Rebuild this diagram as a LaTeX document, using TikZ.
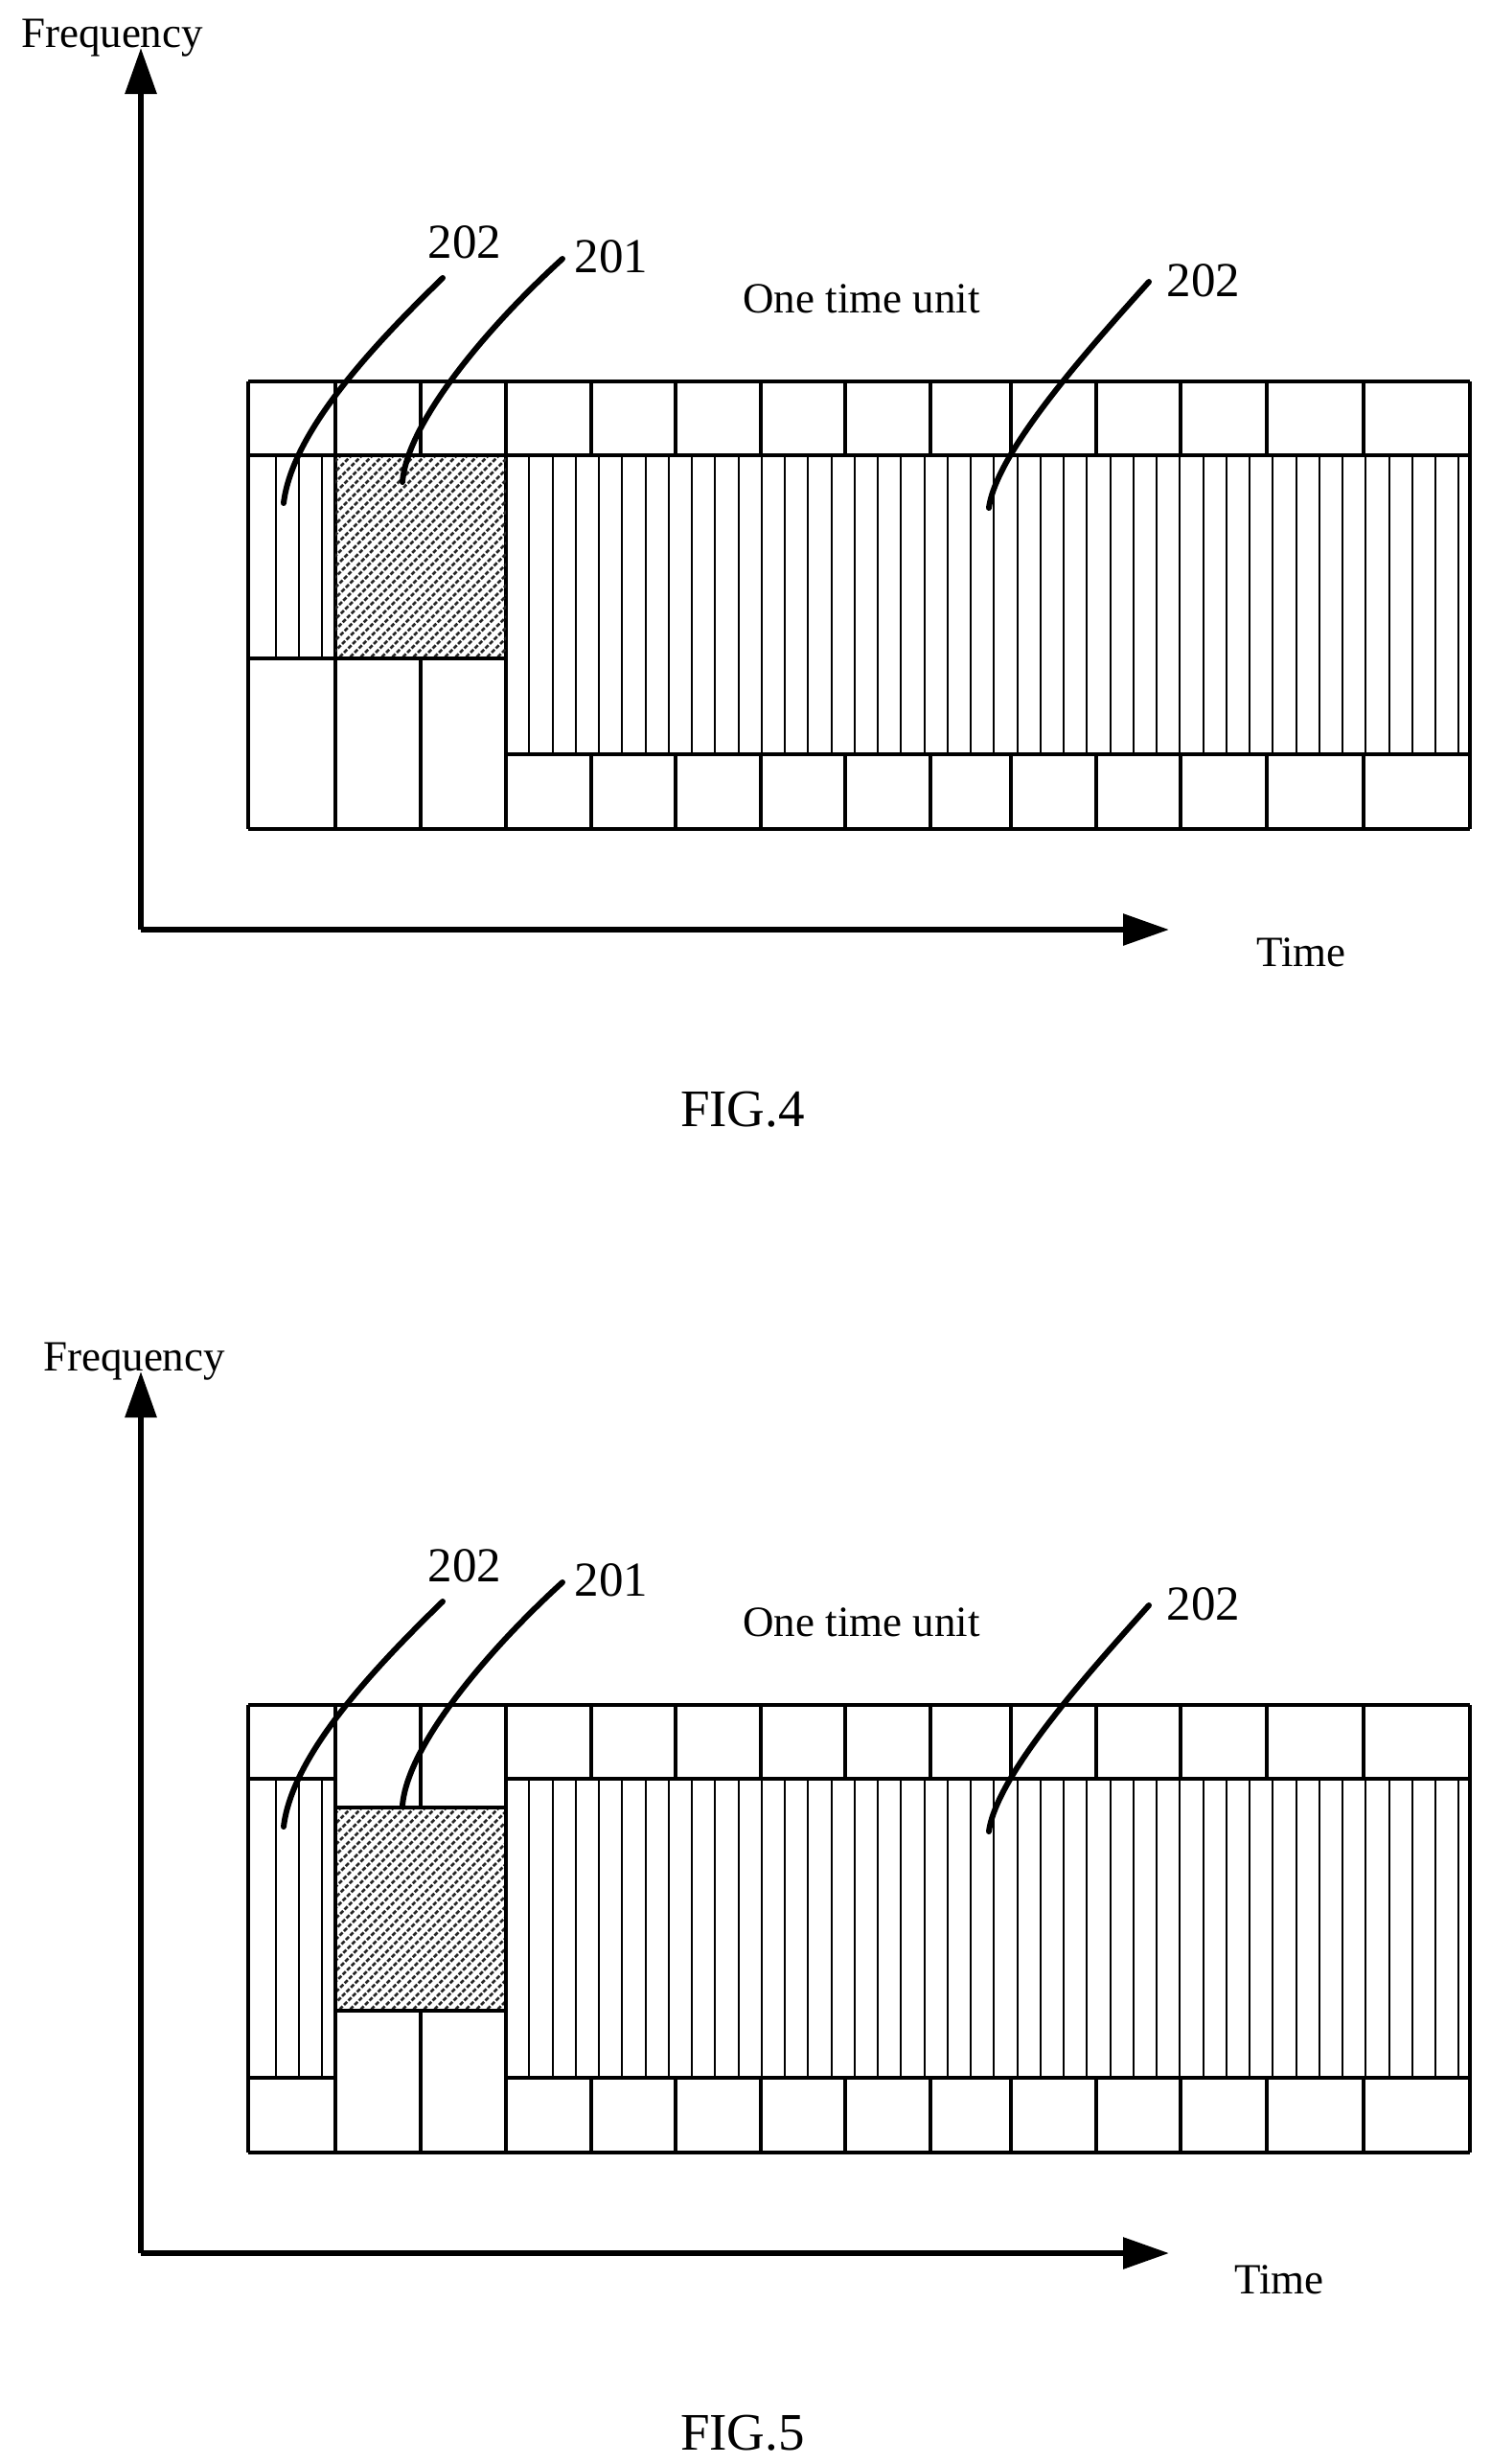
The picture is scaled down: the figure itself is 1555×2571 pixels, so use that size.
\documentclass[tikz,border=0pt]{standalone}
\usepackage{fontspec}
\setmainfont{Liberation Serif}
\usetikzlibrary{arrows.meta}
\begin{document}
\begin{tikzpicture}[x=0.5pt,y=-0.5pt,
  thick line/.style={line width=2.3pt},
  thin line/.style={line width=1pt},
  leader/.style={line width=3pt,line cap=round},
  axis/.style={line width=3pt,-{Triangle[length=24pt,width=16pt]}},
  lbl/.style={font=\fontsize{25.5}{28}\selectfont,inner sep=0pt},
  txt/.style={font=\fontsize{22.5}{26}\selectfont,inner sep=0pt},
  figcap/.style={font=\fontsize{27.5}{30}\selectfont,inner sep=0pt},
  hatch/.style={line width=1.3pt,dash pattern=on 2.2pt off 1pt,black!85}]
\useasboundingbox (0,0) rectangle (1555,2571);
\foreach \f/\dy/\fx/\lab in {4/0/117/FIG.4, 5/1381/140/FIG.5}{
\begin{scope}[shift={(0,\dy)}]
  \coordinate (o\f) at (147,970);
  \node[txt] (freq\f) at (\fx,40) {Frequency};
  \draw[axis] (o\f) -- (147,50);
  \draw[axis] (o\f) -- (1220,970);
  \node[figcap] (cap\f) at (775,1158) {\lab};
  \node[txt] (unit\f) at (899,312) {One time unit};
  \foreach \k in {1,...,41} \draw[thin line] ({528+\k*24.25},475) -- ({528+\k*24.25},787);
  \draw[thick line] (259,398) -- (1534,398);
  \foreach \x in {617,705,794,882,971,1055,1144,1232,1322,1423} {\draw[thick line] (\x,398) -- (\x,475); \draw[thick line] (\x,787) -- (\x,865);}
  \draw[thick line] (528,475) -- (1534,475);
  \draw[thick line] (528,787) -- (1534,787);
  \draw[thick line] (259,865) -- (1534,865);
  \draw[thick line] (259,398) -- (259,865);
  \draw[thick line] (1534,398) -- (1534,865);
  \draw[thick line] (528,398) -- (528,865);
  \draw[thick line] (350,398) -- (350,865);
  \draw[thick line] (259,475) -- (350,475);
  \node[lbl] (l202a\f) at (485,253) {202};
  \node[lbl] (l201\f) at (638,268) {201};
  \node[lbl] (l202b\f) at (1256,293) {202};
  \coordinate (s202a\f) at (462,290);
  \coordinate (s201\f) at (587,270);
  \coordinate (s202b\f) at (1199,294); \coordinate (e202b\f) at (1032,530);
  \draw[leader] (s202b\f) .. controls (1140,360) and (1040,470) .. (e202b\f);
\end{scope}}
% FIG.4 specifics
\node[txt] (time4) at (1358,994) {Time};
\foreach \x in {288,312,336} \draw[thin line] (\x,475) -- (\x,687);
\begin{scope}
  \clip (350,475) rectangle (528,687);
  \foreach \k in {-22,...,40} \draw[hatch] ({350+\k*11},690) -- ({350+\k*11+220},470);
\end{scope}
\draw[thick line] (350,475) -- (528,475);
\draw[thick line] (259,687) -- (528,687);
\draw[thick line] (439,398) -- (439,475);
\draw[thick line] (439,687) -- (439,865);
\coordinate (e202a4) at (296,525);
\coordinate (e2014) at (420,503);
\draw[leader] (s202a4) .. controls (390,360) and (305,450) .. (e202a4);
\draw[leader] (s2014) .. controls (510,340) and (425,440) .. (e2014);
% FIG.5 specifics
\begin{scope}[shift={(0,1381)}]
\node[txt] (time5) at (1335,998) {Time};
\foreach \x in {288,312,336} \draw[thin line] (\x,475) -- (\x,787);
\begin{scope}
  \clip (350,505) rectangle (528,717);
  \foreach \k in {-22,...,40} \draw[hatch] ({350+\k*11},720) -- ({350+\k*11+220},500);
\end{scope}
\draw[thick line] (350,505) rectangle (528,717);
\draw[thick line] (259,787) -- (350,787);
\draw[thick line] (439,398) -- (439,505);
\draw[thick line] (439,717) -- (439,865);
\coordinate (e202a5) at (296,525);
\coordinate (e2015) at (420,503);
\draw[leader] (s202a5) .. controls (390,360) and (305,450) .. (e202a5);
\draw[leader] (s2015) .. controls (510,340) and (425,440) .. (e2015);
\end{scope}
\end{tikzpicture}
\end{document}
